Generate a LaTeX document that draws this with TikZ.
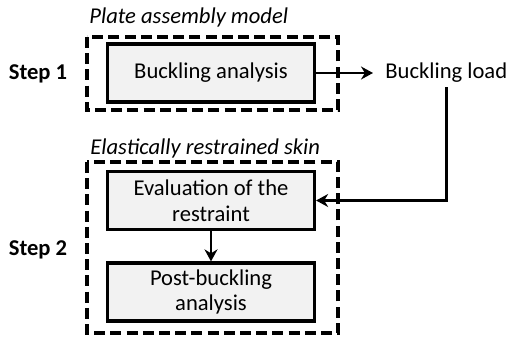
\documentclass[tikz,border=0pt]{standalone}
\usepackage{fontspec}
\setmainfont{Carlito}
\usepackage{tikz}
\usetikzlibrary{positioning,calc,arrows.meta}

\begin{document}
\begin{tikzpicture}[
        x=0.5pt, y=-0.5pt,
        every node/.style={font=\fontsize{11.3}{12.8}\selectfont},
        stagebox/.style={draw, line width=1.6pt, fill=gray!10, align=center,
            minimum width=103.5pt, minimum height=29pt, inner sep=2pt},
        groupbox/.style={draw, line width=1.7pt, dash pattern=on 5.5pt off 2.6pt},
        steplabel/.style={font=\fontsize{11.3}{12.8}\selectfont\bfseries},
        grouptitle/.style={font=\fontsize{11.3}{12.8}\selectfont\itshape, anchor=west, inner sep=0pt},
        flow/.style={line width=1.4pt, -{Stealth[length=6pt, width=6.5pt]}}
    ]
    \useasboundingbox (0,0) rectangle (512,336);

    % step 1: plate assembly model
    \node[grouptitle] (title1) at (89,17) {Plate assembly model};
    \draw[groupbox] (87,37) rectangle (338,110);
    \node[stagebox] (buckling) at (211,73) {Buckling analysis};
    \node[steplabel] (step1) at (38,74) {Step 1};
    \node[anchor=west, inner xsep=6pt, inner ysep=2pt] (load) at (373,73) {Buckling load};

    % step 2: elastically restrained skin
    \node[grouptitle] (title2) at (90,148) {Elastically restrained skin};
    \draw[groupbox] (87,162) rectangle (338,333);
    \node[stagebox] (restraint) at (211,200.5) {Evaluation of the\\restraint};
    \node[stagebox] (post) at (211,292) {Post-buckling\\analysis};
    \node[steplabel] (step2) at (38,250) {Step 2};

    % connectors
    \draw[flow] (buckling) -- (load);
    \draw[flow] (load.south) |- (restraint.east);
    \draw[flow] (restraint) -- (post);
\end{tikzpicture}
\end{document}
